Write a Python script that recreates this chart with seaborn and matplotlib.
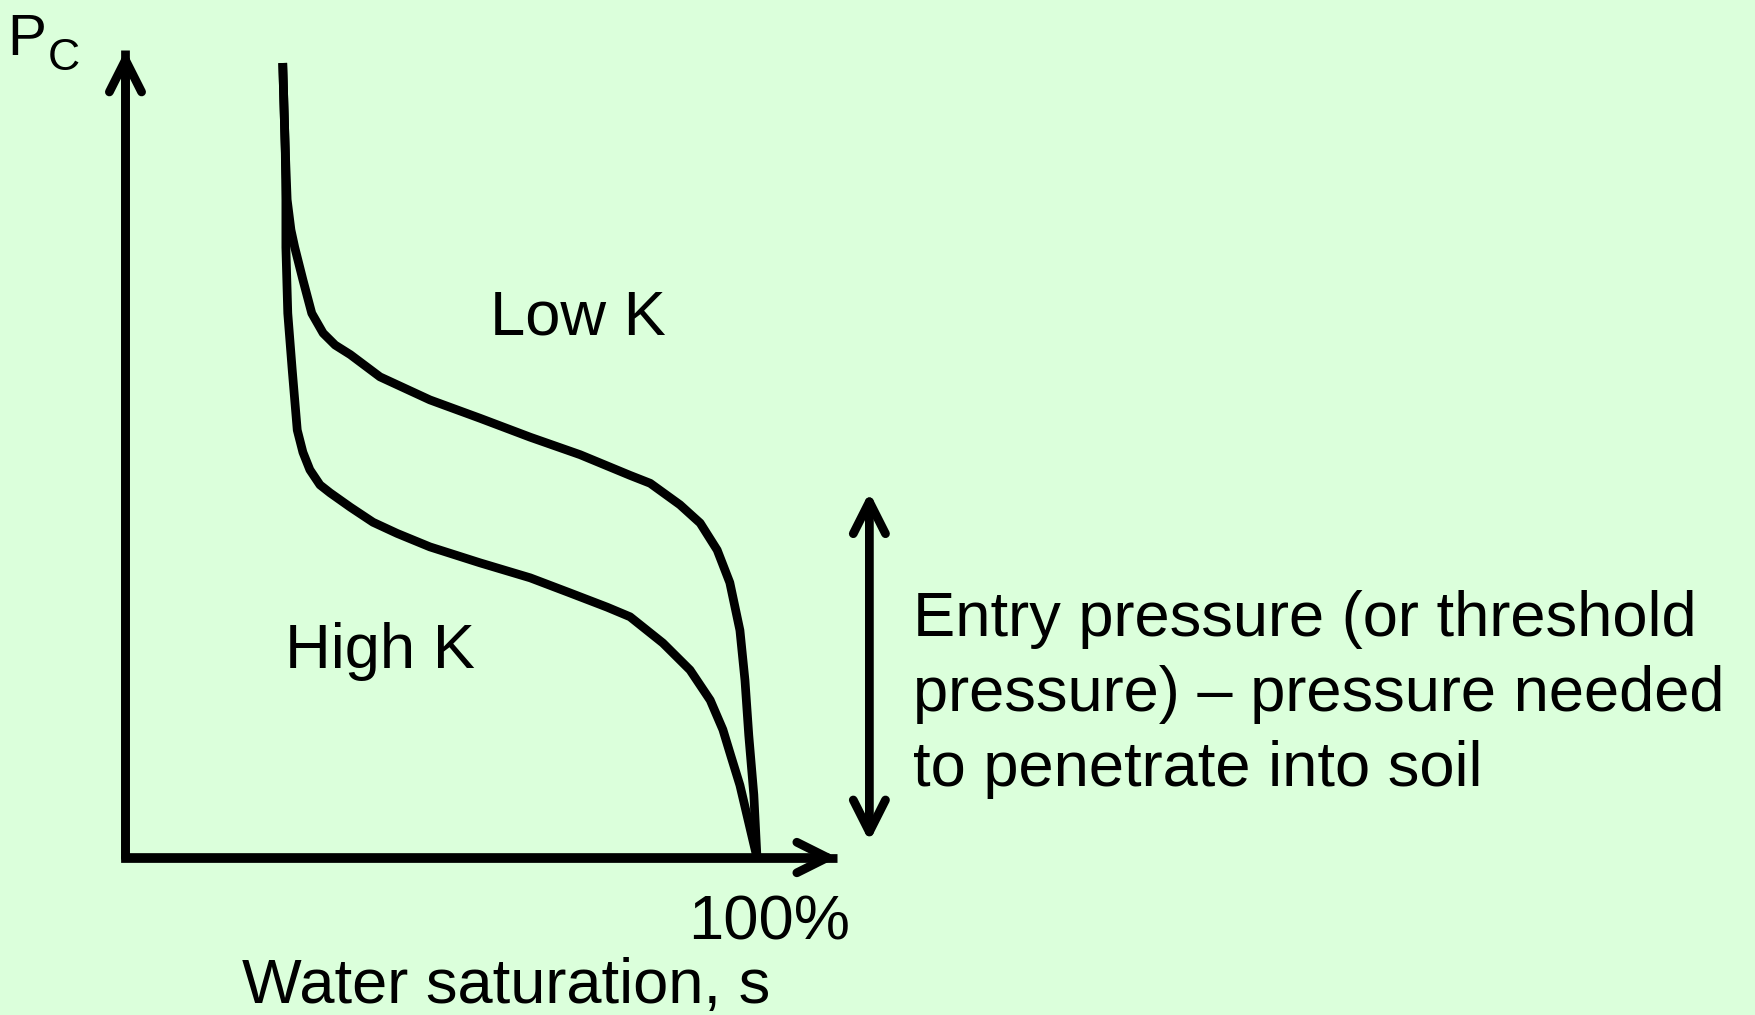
import numpy as np
import pandas as pd
import matplotlib
matplotlib.use("Agg")
import matplotlib.pyplot as plt
import seaborn as sns

# ── Data (schematic) ──
# water saturation in %, capillary pressure in relative units (curve top = 100)
low_k_sat = [24.9, 25.3, 25.6, 26.2, 26.8, 28.1, 29.5, 31.3, 33.2, 35.6, 40.3, 48.2, 56.1,
             64.1, 72.0, 79.9, 83.1, 87.8, 91.0, 93.7, 95.7, 97.3, 98.1, 98.7, 99.5, 100.0]
low_k_pc = [100.0, 89.1, 82.8, 79.0, 76.8, 72.7, 68.5, 66.0, 64.5, 63.3, 60.5, 57.6, 55.3,
            52.9, 50.7, 48.1, 47.1, 44.4, 42.1, 38.7, 34.6, 28.6, 22.3, 15.4, 7.9, 0.0]
high_k_sat = [24.9, 25.3, 25.4, 25.4, 25.7, 26.4, 27.2, 28.1, 29.2, 30.8, 32.4, 35.6, 39.2,
              43.0, 48.2, 56.1, 64.1, 70.4, 76.3, 79.9, 85.1, 89.4, 92.6, 94.6, 95.9, 97.3,
              100.0]
high_k_pc = [100.0, 89.1, 82.8, 76.8, 68.5, 61.4, 53.8, 51.0, 48.8, 46.9, 45.9, 44.1, 42.2,
             40.8, 39.1, 37.1, 35.2, 33.3, 31.5, 30.3, 27.0, 23.6, 19.8, 16.1, 12.7, 9.1,
             0.0]

curve_names = ["Low K", "High K"]
x_tick_label = "100%"
x_label = "Water saturation, s"
y_label = ("P", "C")
note_lines = ["Entry pressure (or threshold",
              "pressure) \u2013 pressure needed",
              "to penetrate into soil"]
entry_sat = 117.8          # where the double arrow sits
entry_pc = [2.0, 46.0]     # extent of the entry-pressure arrow

# ── Long-form table for seaborn ──
df = pd.concat([
    pd.DataFrame({"sat": low_k_sat, "pc": low_k_pc, "curve": curve_names[0]}),
    pd.DataFrame({"sat": high_k_sat, "pc": high_k_pc, "curve": curve_names[1]}),
], ignore_index=True)

BG = "#DBFFDB"
INK = "black"
FS = 45.5

sns.set_theme(style="white")
plt.rcParams["font.family"] = ["Liberation Sans", "DejaVu Sans"]

fig = plt.figure(figsize=(17.56, 10.15), dpi=100)
fig.patch.set_facecolor(BG)
ax = fig.add_axes([0, 0, 1, 1])
ax.set_facecolor(BG)

sns.lineplot(data=df, x="sat", y="pc", hue="curve", units="curve", estimator=None,
             sort=False, palette=[INK, INK], legend=False, linewidth=6.3, ax=ax)
for ln in ax.lines:
    ln.set_solid_capstyle("butt")
    ln.set_solid_joinstyle("round")

ax.set_xlim(-19.87, 258.2)
ax.set_ylim(-19.82, 107.93)
ax.axis("off")

# ── Axes drawn as arrows ──
y_top = 101.6
x_end = 112.7
ax.plot([0, 0, x_end], [y_top, 0, 0], color=INK, lw=6.3,
        solid_joinstyle="miter", solid_capstyle="butt")
head = dict(color=INK, lw=6.3, shrinkA=0, shrinkB=0, mutation_scale=20,
            capstyle="round", joinstyle="round")
ax.annotate("", xy=(0, y_top), xytext=(0, 0),
            arrowprops=dict(arrowstyle="->,head_length=1.15,head_width=0.58", **head))
ax.annotate("", xy=(x_end, 0), xytext=(0, 0),
            arrowprops=dict(arrowstyle="->,head_length=1.1,head_width=0.55", **head))

# entry-pressure double arrow
ax.annotate("", xy=(entry_sat, entry_pc[1]), xytext=(entry_sat, entry_pc[0]),
            arrowprops=dict(arrowstyle="<->,head_length=1.15,head_width=0.58", **head))

# ── Text ──
ax.text(71.6, 65.8, curve_names[0], fontsize=FS, ha="center", va="baseline", color=INK)
ax.text(40.3, 23.9, curve_names[1], fontsize=FS, ha="center", va="baseline", color=INK)
ax.text(102.0, -10.3, x_tick_label, fontsize=FS, ha="center", va="baseline", color=INK)
ax.text(60.2, -18.3, x_label, fontsize=FS, ha="center", va="baseline", color=INK)
ax.text(-18.7, 101.0, y_label[0], fontsize=42, ha="left", va="baseline", color=INK)
ax.text(-12.3, 99.1, y_label[1], fontsize=32, ha="left", va="baseline", color=INK)

for i, line in enumerate(note_lines):
    ax.text(124.7, 27.9 - i * 9.45, line, fontsize=FS, ha="left", va="baseline", color=INK)

fig.savefig("out.png", dpi=100, facecolor=BG)
plt.close(fig)
